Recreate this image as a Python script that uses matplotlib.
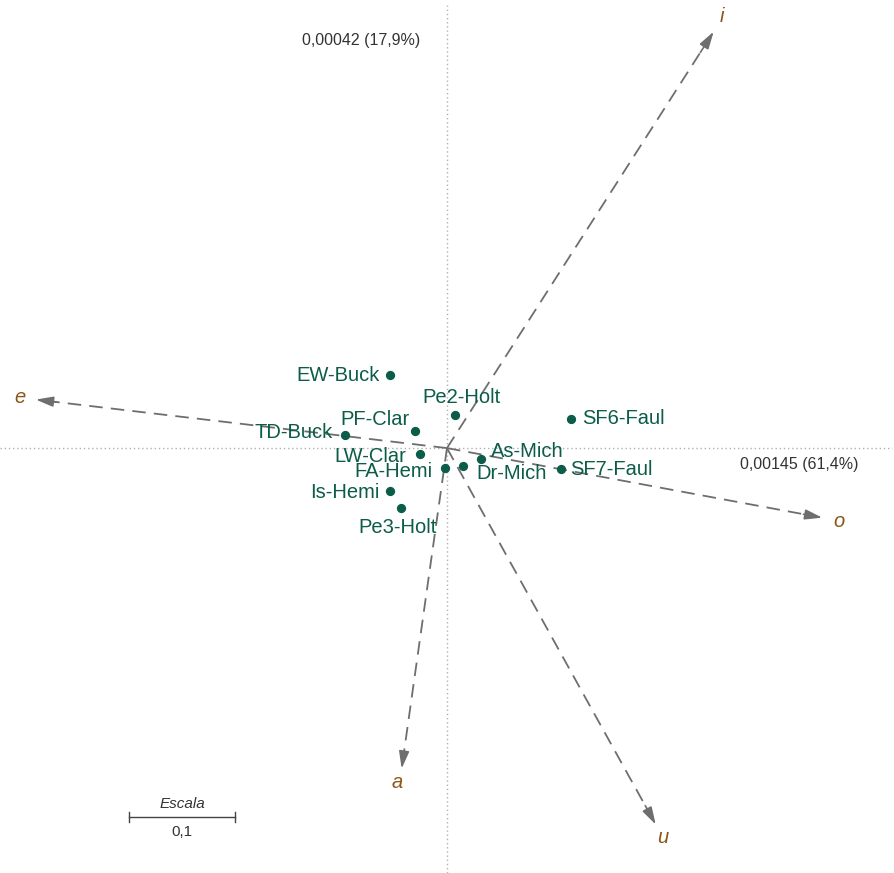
import numpy as np
import matplotlib
matplotlib.use('Agg')
import matplotlib.pyplot as plt

# sample scores (axis 1, axis 2)
samples = ['EW-Buck', 'Pe2-Holt', 'SF6-Faul', 'PF-Clar', 'TD-Buck', 'LW-Clar',
           'As-Mich', 'FA-Hemi', 'Dr-Mich', 'SF7-Faul', 'Is-Hemi', 'Pe3-Holt']
sx = [-0.054, 0.008, 0.118, -0.030, -0.097, -0.026, 0.032, -0.002, 0.015, 0.108, -0.054, -0.044]
sy = [0.069, 0.031, 0.028, 0.016, 0.012, -0.006, -0.010, -0.019, -0.017, -0.020, -0.041, -0.057]

# vowel loadings
vowels = ['i', 'e', 'o', 'a', 'u']
vx = [0.253, -0.390, 0.356, -0.043, 0.198]
vy = [0.395, 0.046, -0.066, -0.304, -0.357]

ax1_label = '0,00145 (61,4%)'
ax2_label = '0,00042 (17,9%)'
scale_len = 0.1

green = '#0b5c48'
brown = '#8a5516'
grey = '#6e6e6e'
font = 'Liberation Sans'

fig = plt.figure(figsize=(8.95, 8.73), dpi=100)
ax = fig.add_axes([0, 0, 1, 1])
ax.set_xlim(-0.424, 0.425)
ax.set_ylim(-0.403, 0.425)
ax.axis('off')

# axes through the origin
ax.plot([-0.424, 0.422], [0, 0], ls=(0, (1, 2)), color='#b0b0b0', lw=1)
ax.plot([0, 0], [-0.403, 0.420], ls=(0, (1, 2)), color='#b0b0b0', lw=1)

ax.text(-0.0816, 0.387, ax2_label, ha='center', va='center', fontsize=11.5, color='#333333', family=font)
ax.text(0.334, -0.016, ax1_label, ha='center', va='center', fontsize=11.5, color='#333333', family=font)

# vowel arrows
vlab_off = {'i': (8, 15), 'e': (-16, 2), 'o': (17, -4), 'a': (-4, -14), 'u': (7, -13)}
for v, x, y in zip(vowels, vx, vy):
    ax.plot([0, x * 0.97], [0, y * 0.97], ls=(0, (7.5, 4.5)), color=grey, lw=1.3)
    ax.annotate('', xy=(x, y), xytext=(x * 0.95, y * 0.95),
                arrowprops=dict(arrowstyle='-|>,head_length=0.75,head_width=0.22', color=grey,
                                lw=1.2, mutation_scale=14, shrinkA=0, shrinkB=0))
    ax.annotate(v, (x, y), xytext=vlab_off[v], textcoords='offset pixels',
                ha='center', va='center', fontsize=14.5, style='italic', color=brown, family=font)

# samples
ax.scatter(sx, sy, s=32, color=green, zorder=5)
lab_pos = {'EW-Buck': (-10, 0, 'right'), 'Pe2-Holt': (6, 18, 'center'),
           'SF6-Faul': (11, 0, 'left'), 'PF-Clar': (-6, 12, 'right'),
           'TD-Buck': (-12, 3, 'right'), 'LW-Clar': (-13, -2, 'right'),
           'As-Mich': (10, 7, 'left'), 'FA-Hemi': (-12, -3, 'right'),
           'Dr-Mich': (14, -7, 'left'), 'SF7-Faul': (9, 0, 'left'),
           'Is-Hemi': (-11, -1, 'right'), 'Pe3-Holt': (-3, -19, 'center')}
for s, x, y in zip(samples, sx, sy):
    dx, dy, ha = lab_pos[s]
    ax.annotate(s, (x, y), xytext=(dx, dy), textcoords='offset pixels',
                ha=ha, va='center', fontsize=14.5, color=green, family=font, zorder=6)

# scale bar
x0, yb = -0.3014, -0.350
ax.plot([x0, x0 + scale_len], [yb, yb], color='#444444', lw=1)
ax.plot([x0, x0], [yb - 0.005, yb + 0.005], color='#444444', lw=1)
ax.plot([x0 + scale_len, x0 + scale_len], [yb - 0.005, yb + 0.005], color='#444444', lw=1)
ax.text(x0 + scale_len / 2, yb + 0.012, 'Escala', ha='center', va='center',
        fontsize=11, style='italic', color='#333333', family=font)
ax.text(x0 + scale_len / 2, yb - 0.014, '0,1', ha='center', va='center',
        fontsize=11, color='#333333', family=font)

plt.savefig('out.png', dpi=100)
